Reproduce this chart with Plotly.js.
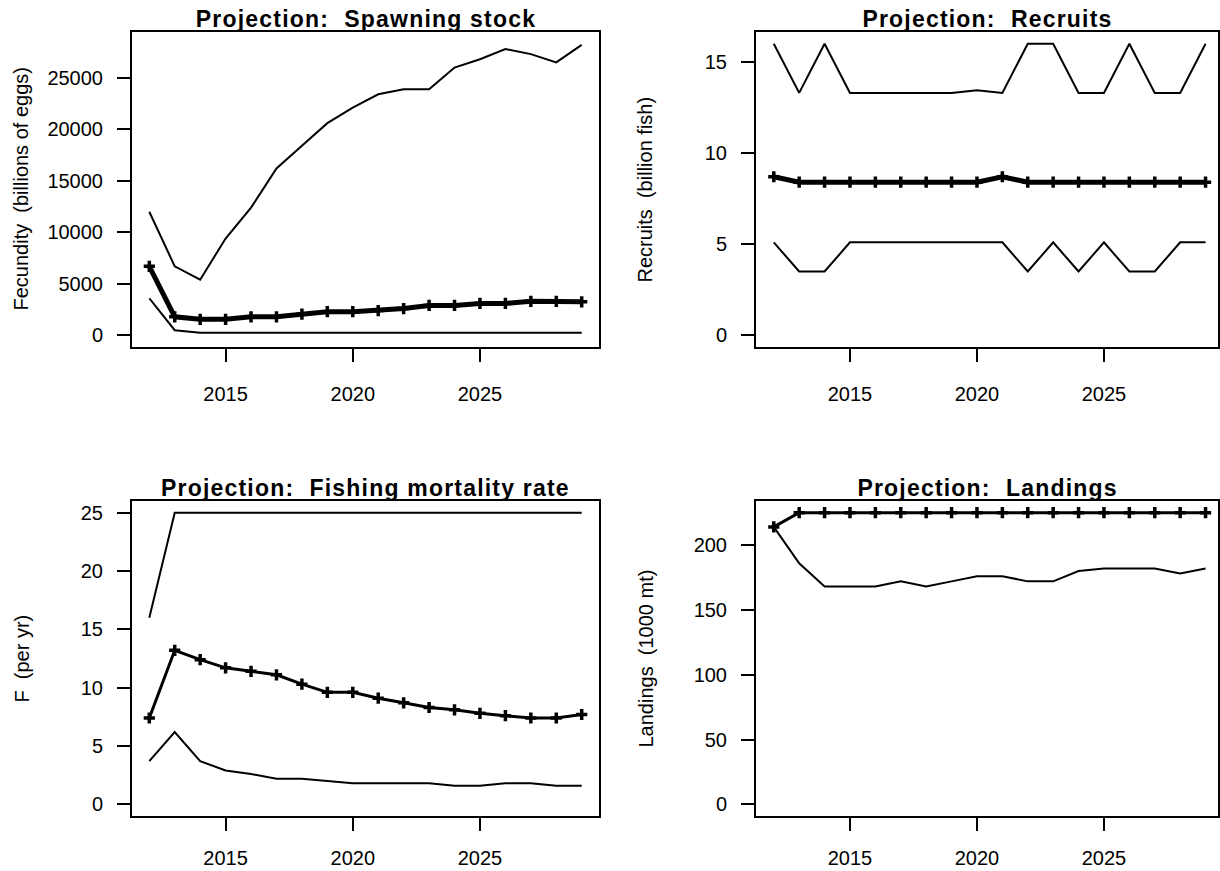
<!DOCTYPE html>
<html>
<head>
<meta charset="utf-8">
<script src="https://cdn.plot.ly/plotly-3.0.1.min.js"></script>
<style>html,body{margin:0;padding:0;background:#fff;}#chart{width:1220px;height:871px;}</style>
</head>
<body>
<div id="chart"></div>
<script>
// ---------------- data ----------------
const years = [2012, 2013, 2014, 2015, 2016, 2017, 2018, 2019, 2020, 2021, 2022, 2023, 2024, 2025, 2026, 2027, 2028, 2029];

const ssbUpper  = [12000, 6700, 5400, 9400, 12400, 16200, 18400, 20600, 22100, 23400, 23900, 23900, 26000, 26800, 27800, 27300, 26500, 28200];
const ssbMedian = [6700, 1800, 1550, 1550, 1800, 1800, 2050, 2300, 2300, 2400, 2600, 2900, 2900, 3100, 3100, 3300, 3300, 3250];
const ssbLower  = [3600, 500, 250, 250, 250, 250, 250, 250, 250, 250, 250, 250, 250, 250, 250, 250, 250, 250];

const recUpper  = [16, 13.3, 16, 13.3, 13.3, 13.3, 13.3, 13.3, 13.45, 13.3, 16, 16, 13.3, 13.3, 16, 13.3, 13.3, 16];
const recMedian = [8.7, 8.4, 8.4, 8.4, 8.4, 8.4, 8.4, 8.4, 8.4, 8.7, 8.4, 8.4, 8.4, 8.4, 8.4, 8.4, 8.4, 8.4];
const recLower  = [5.1, 3.5, 3.5, 5.1, 5.1, 5.1, 5.1, 5.1, 5.1, 5.1, 3.5, 5.1, 3.5, 5.1, 3.5, 3.5, 5.1, 5.1];

const fUpper  = [16, 25, 25, 25, 25, 25, 25, 25, 25, 25, 25, 25, 25, 25, 25, 25, 25, 25];
const fMedian = [7.4, 13.2, 12.4, 11.7, 11.4, 11.1, 10.3, 9.6, 9.6, 9.1, 8.7, 8.3, 8.1, 7.8, 7.6, 7.4, 7.4, 7.7];
const fLower  = [3.7, 6.2, 3.7, 2.9, 2.6, 2.2, 2.2, 2.0, 1.8, 1.8, 1.8, 1.8, 1.6, 1.6, 1.8, 1.8, 1.6, 1.6];

const landMedian = [214, 225, 225, 225, 225, 225, 225, 225, 225, 225, 225, 225, 225, 225, 225, 225, 225, 225];
const landLower  = [214, 186, 168, 168, 168, 172, 168, 172, 176, 176, 172, 172, 180, 182, 182, 182, 178, 182];

const panelTitles = ["Projection:\u00a0 Spawning stock", "Projection:\u00a0 Recruits", "Projection:\u00a0 Fishing mortality rate", "Projection:\u00a0 Landings"];
const yTitles = ["Fecundity\u00a0 (billions of eggs)", "Recruits\u00a0 (billion fish)", "F\u00a0 (per yr)", "Landings\u00a0 (1000 mt)"];
const xTicks = [2015, 2020, 2025];
const yTicks1 = [0, 5000, 10000, 15000, 20000, 25000];
const yTicks2 = [0, 5, 10, 15];
const yTicks3 = [0, 5, 10, 15, 20, 25];
const yTicks4 = [0, 50, 100, 150, 200];

// ---------------- layout helpers ----------------
const W = 1220, H = 871;
const px = v => v / W;
const py = v => 1 - v / H;
const FONT = "Liberation Sans, Arial, sans-serif";

// panel boxes in pixels [left, right, top, bottom]
const boxes = [
  [132, 599, 32, 347],
  [756, 1218, 32, 347],
  [132, 599, 501, 816],
  [756, 1218, 501, 816]
];
const xRanges = [[2011.32, 2029.68], [2011.30, 2029.49], [2011.32, 2029.68], [2011.30, 2029.49]];
const yRanges = [[-1133, 29448], [-0.64, 16.64], [-1, 26], [-9, 234]];
const yTickSets = [yTicks1, yTicks2, yTicks3, yTicks4];
const xStandoff = [15, 15, 10, 10];

const layout = {
  width: W, height: H,
  margin: {l: 0, r: 0, t: 0, b: 0, pad: 0},
  paper_bgcolor: "#fff", plot_bgcolor: "#fff",
  showlegend: false,
  font: {family: FONT, size: 20, color: "#000"},
  annotations: []
};

boxes.forEach((b, i) => {
  const n = i === 0 ? "" : String(i + 1);
  layout["xaxis" + n] = {
    domain: [px(b[0]), px(b[1])],
    anchor: "y" + n,
    range: xRanges[i],
    showgrid: false, zeroline: false,
    showline: true, mirror: true, linecolor: "#000", linewidth: 2,
    ticks: "outside", ticklen: 13, tickwidth: 2, tickcolor: "#000",
    tickvals: xTicks,
    ticklabelstandoff: xStandoff[i],
    tickfont: {family: FONT, size: 20, color: "#000"}
  };
  layout["yaxis" + n] = {
    domain: [py(b[3]), py(b[2])],
    anchor: "x" + n,
    range: yRanges[i],
    showgrid: false, zeroline: false,
    showline: true, mirror: true, linecolor: "#000", linewidth: 2,
    ticks: "outside", ticklen: 13, tickwidth: 2, tickcolor: "#000",
    tickvals: yTickSets[i],
    tickformat: "d",
    ticklabelstandoff: 10,
    tickfont: {family: FONT, size: 20, color: "#000"}
  };
  // panel title
  layout.annotations.push({
    xref: "paper", yref: "paper",
    x: px((b[0] + b[1]) / 2), y: py(b[2] - 13),
    xanchor: "center", yanchor: "middle",
    text: "<b>" + panelTitles[i] + "</b>",
    showarrow: false,
    font: {family: FONT, size: 23, color: "#000"}
  });
  // y-axis title
  layout.annotations.push({
    xref: "paper", yref: "paper",
    x: px(b[0] - 111), y: py((b[2] + b[3]) / 2),
    xanchor: "center", yanchor: "middle",
    textangle: -90,
    text: yTitles[i],
    showarrow: false,
    font: {family: FONT, size: 20, color: "#000"}
  });
});

function thin(x, y, xa, ya) {
  return {x: x, y: y, xaxis: xa, yaxis: ya, type: "scatter", mode: "lines",
          line: {color: "#000", width: 2}, hoverinfo: "skip"};
}
function crossLine(x, y, xa, ya, w) {
  return {x: x, y: y, xaxis: xa, yaxis: ya, type: "scatter", mode: "lines+markers",
          line: {color: "#000", width: w},
          marker: {symbol: "cross-thin-open", size: 8, color: "#000", line: {color: "#000", width: 3.5}},
          hoverinfo: "skip"};
}

const data = [
  thin(years, ssbUpper, "x", "y"),
  thin(years, ssbLower, "x", "y"),
  crossLine(years, ssbMedian, "x", "y", 5),
  thin(years, recUpper, "x2", "y2"),
  thin(years, recLower, "x2", "y2"),
  crossLine(years, recMedian, "x2", "y2", 5),
  thin(years, fUpper, "x3", "y3"),
  thin(years, fLower, "x3", "y3"),
  crossLine(years, fMedian, "x3", "y3", 3),
  thin(years, landLower, "x4", "y4"),
  crossLine(years, landMedian, "x4", "y4", 3)
];

Plotly.newPlot("chart", data, layout, {staticPlot: true, displayModeBar: false}).then(gd => {
  // R-style wider letter spacing for the bold panel titles
  gd.querySelectorAll(".annotation-text").forEach(el => {
    if (el.textContent.indexOf("Projection") === 0) el.style.letterSpacing = "1.2px";
  });
});
</script>
</body>
</html>
